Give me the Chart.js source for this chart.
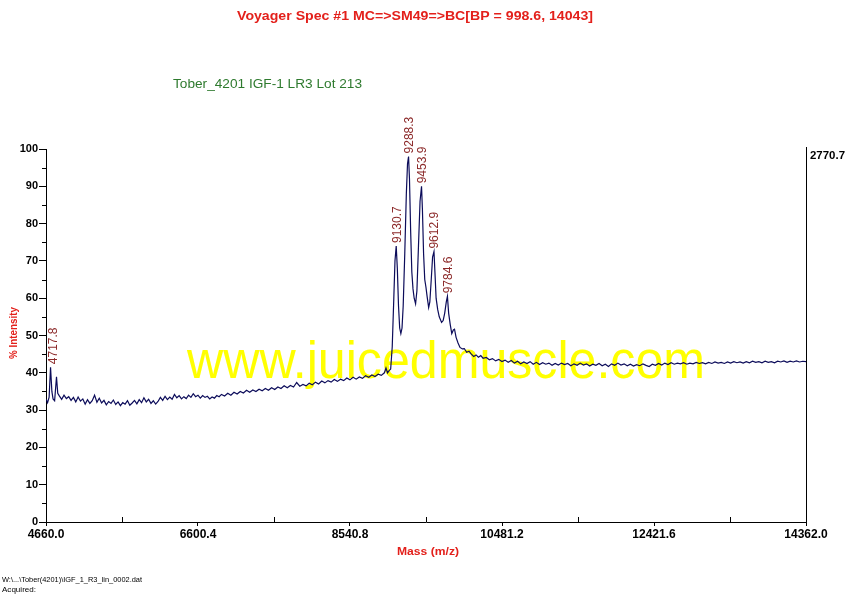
<!DOCTYPE html>
<html>
<head>
<meta charset="utf-8">
<script src="https://cdn.jsdelivr.net/npm/chart.js@4.4.1/dist/chart.umd.min.js"></script>
<style>
    html, body { margin: 0; padding: 0; background: #ffffff; }
    #myChart { display: block; }
</style>
</head>
<body>
<canvas id="myChart" width="845" height="596"></canvas>
<script>
// spectrum (mass in Da, intensity in %)
let massas = [
    4660, 4680, 4700, 4718, 4735, 4750, 4770, 4794, 4810, 4830, 4860, 4890, 4920, 4950, 4980,
    5010, 5040, 5070, 5100, 5130, 5160, 5190, 5220, 5250, 5280, 5310, 5340, 5370, 5400, 5430,
    5460, 5490, 5520, 5550, 5580, 5610, 5640, 5670, 5700, 5730, 5760, 5790, 5820, 5850, 5880,
    5910, 5940, 5970, 6000, 6030, 6060, 6090, 6120, 6150, 6180, 6210, 6240, 6270, 6300, 6330,
    6360, 6390, 6420, 6450, 6480, 6510, 6540, 6570, 6600, 6630, 6660, 6690, 6720, 6750, 6780,
    6810, 6840, 6870, 6900, 6940, 6980, 7020, 7060, 7100, 7140, 7180, 7220, 7260, 7300, 7340,
    7380, 7420, 7460, 7500, 7540, 7580, 7620, 7660, 7700, 7740, 7780, 7820, 7860, 7900, 7940,
    7980, 8020, 8060, 8100, 8140, 8180, 8220, 8260, 8300, 8340, 8380, 8420, 8460, 8500, 8540,
    8580, 8620, 8660, 8700, 8740, 8780, 8820, 8860, 8900, 8940, 8980, 9000, 9020, 9040, 9060,
    9080, 9100, 9115, 9130.7, 9145, 9160, 9175, 9190, 9205, 9220, 9240, 9260, 9275, 9288.3, 9300,
    9315, 9330, 9345, 9360, 9378, 9395, 9415, 9435, 9453.9, 9465, 9480, 9495, 9510, 9525, 9545,
    9560, 9578, 9595, 9612.9, 9625, 9640, 9660, 9680, 9710, 9730, 9750, 9770, 9784.6, 9800, 9820,
    9840, 9860, 9875, 9895, 9920, 9945, 9975, 10000, 10030, 10060, 10090, 10120, 10150, 10180, 10210,
    10240, 10280, 10320, 10360, 10400, 10440, 10480, 10520, 10560, 10600, 10640, 10680, 10720, 10760, 10800,
    10840, 10880, 10920, 10960, 11000, 11040, 11080, 11120, 11160, 11200, 11240, 11280, 11320, 11360, 11400,
    11440, 11480, 11520, 11560, 11600, 11640, 11680, 11720, 11760, 11800, 11840, 11880, 11920, 11960, 12000,
    12040, 12080, 12120, 12160, 12200, 12240, 12280, 12320, 12360, 12400, 12440, 12480, 12520, 12560, 12600,
    12640, 12680, 12720, 12760, 12800, 12840, 12880, 12920, 12960, 13000, 13040, 13080, 13120, 13160, 13200,
    13240, 13280, 13320, 13360, 13400, 13440, 13480, 13520, 13560, 13600, 13640, 13680, 13720, 13760, 13800,
    13840, 13880, 13920, 13960, 14000, 14040, 14080, 14120, 14160, 14200, 14240, 14280, 14320, 14362
];
let intensidades = [
    33.0, 32.0, 33.5, 41.5, 35.0, 33.0, 32.5, 38.9, 34.5, 33.8, 32.9, 34.0, 33.1, 33.6, 32.6,
    33.4, 32.2, 33.5, 32.4, 33.0, 31.6, 32.8, 31.8, 32.5, 34.0, 32.1, 33.2, 31.9, 32.6, 31.4,
    32.3, 31.8, 32.7, 31.5, 32.2, 31.2, 32.0, 31.6, 32.5, 31.3, 31.9, 32.6, 31.7, 32.8, 32.0,
    33.3, 32.2, 32.9, 31.8, 32.5, 31.6, 32.3, 33.4, 32.6, 33.7, 32.8, 33.5, 32.9, 34.2, 33.3,
    33.9, 33.0, 33.6, 33.1, 34.0, 33.4, 34.4, 33.6, 34.0, 33.2, 33.9, 33.4, 33.7, 33.0, 33.5,
    33.2, 33.9, 33.6, 34.2, 33.8, 34.5, 34.0, 34.8, 34.3, 35.0, 34.6, 35.3, 34.8, 35.4, 35.0,
    35.6, 35.2, 35.8, 35.3, 36.0, 35.5, 36.2, 35.8, 36.5, 36.0, 36.6, 36.2, 37.4, 36.4, 36.9,
    36.5, 37.2, 36.8, 37.5, 37.0, 37.8, 37.3, 37.9, 37.5, 38.2, 37.7, 38.3, 37.9, 38.6, 38.1,
    38.8, 38.3, 38.9, 38.5, 39.2, 38.8, 39.4, 39.0, 39.6, 39.3, 40.0, 41.3, 40.0, 40.6, 41.0,
    47.0, 60.0, 70.0, 74.0, 68.0, 58.0, 52.0, 50.5, 52.0, 58.0, 72.0, 88.0, 96.0, 98.0, 92.0,
    78.0, 67.0, 62.5, 60.0, 58.5, 62.0, 74.0, 86.0, 90.0, 84.0, 72.0, 65.0, 63.0, 60.5, 57.5,
    59.0, 65.0, 71.0, 72.5, 67.0, 60.0, 57.0, 55.0, 53.5, 54.0, 56.0, 59.0, 60.5, 56.0, 53.0,
    50.5, 51.5, 51.7, 49.5, 48.0, 46.8, 46.4, 46.5, 45.5, 45.8, 45.0, 44.4, 44.8, 44.2, 44.6,
    43.9, 44.1, 43.5, 43.8, 43.2, 43.6, 43.0, 43.4, 42.8, 43.3, 42.6, 43.1, 42.4, 42.9, 42.5,
    43.0, 42.3, 42.8, 42.2, 42.7, 42.3, 42.6, 42.0, 42.5, 42.1, 42.6, 42.2, 42.5, 41.9, 42.4,
    42.0, 42.6, 42.1, 42.4, 41.8, 42.3, 42.0, 42.5, 41.9, 42.3, 41.7, 42.4, 42.0, 42.6, 42.1,
    42.4, 41.9, 42.3, 41.8, 42.2, 41.9, 42.4, 42.0, 41.7, 42.3, 42.0, 42.5, 42.1, 42.6, 42.2,
    42.7, 42.3, 42.6, 42.4, 42.7, 42.3, 42.6, 42.4, 42.8, 42.5, 42.7, 42.4, 42.8, 42.5, 42.9,
    42.6, 42.8, 42.5, 42.9, 42.6, 43.0, 42.7, 42.9, 42.6, 43.0, 42.7, 43.1, 42.8, 43.0, 42.7,
    43.1, 42.8, 43.0, 42.7, 43.1, 42.9, 43.2, 42.8, 43.1, 42.9, 43.2, 42.9, 43.1, 43.0
];

// labelled peaks
let picosMassa = [4717.8, 9130.7, 9288.3, 9453.9, 9612.9, 9784.6];
let picosValor = [41.5, 74.0, 98.0, 90.0, 72.5, 60.5];

// axis ticks
let xTicks = [4660.0, 6600.4, 8540.8, 10481.2, 12421.6, 14362.0];
let yTicks = [0, 10, 20, 30, 40, 50, 60, 70, 80, 90, 100];

let titulo = 'Voyager Spec #1 MC=>SM49=>BC[BP = 998.6, 14043]';
let subtitulo = 'Tober_4201 IGF-1 LR3 Lot 213';
let arquivo = 'W:\\...\\Tober(4201)\\IGF_1_R3_lin_0002.dat';
let maxIntensidade = '2770.7';
let marcaDagua = 'www.juicedmuscle.com';

// texto esticado na horizontal para caber na largura vista na imagem
function TextoAjustado(ctx, texto, x, y, largura, align) {
    let w = ctx.measureText(texto).width;
    ctx.save();
    ctx.translate(x, y);
    ctx.scale(largura / w, 1);
    ctx.textAlign = align;
    ctx.fillText(texto, 0, 0);
    ctx.restore();
}

let marcaPlugin = {
    id: 'marca',
    beforeDatasetsDraw: function (chart) {
        let ctx = chart.ctx;
        ctx.save();
        ctx.fillStyle = '#ffff00';
        ctx.font = '51px "Liberation Sans", Arial, sans-serif';
        ctx.textBaseline = 'alphabetic';
        TextoAjustado(ctx, marcaDagua, 187, 378, 518, 'left');
        ctx.restore();
    }
};

let textosPlugin = {
    id: 'textos',
    afterDraw: function (chart) {
        let ctx = chart.ctx;
        let area = chart.chartArea;
        let x = chart.scales.x;
        let y = chart.scales.y;
        ctx.save();

        // borda direita
        ctx.strokeStyle = '#000000';
        ctx.lineWidth = 1;
        ctx.beginPath();
        ctx.moveTo(Math.round(area.right) + 0.5, area.top - 2);
        ctx.lineTo(Math.round(area.right) + 0.5, area.bottom);
        ctx.stroke();

        // ticks menores
        ctx.beginPath();
        for (let v = 5; v < 100; v += 10) {
            let py = Math.round(y.getPixelForValue(v)) + 0.5;
            ctx.moveTo(area.left - 4, py);
            ctx.lineTo(area.left, py);
        }
        for (let i = 0; i < xTicks.length - 1; i++) {
            let px = Math.round(x.getPixelForValue((xTicks[i] + xTicks[i + 1]) / 2)) + 0.5;
            ctx.moveTo(px, area.bottom);
            ctx.lineTo(px, area.bottom - 5);
        }
        ctx.stroke();

        ctx.textBaseline = 'alphabetic';
        ctx.fillStyle = '#e3201b';
        ctx.font = 'bold 12px "Liberation Sans", Arial, sans-serif';
        TextoAjustado(ctx, titulo, 415, 20, 356, 'center');

        ctx.fillStyle = '#2e7a2e';
        ctx.font = '12.5px "Liberation Sans", Arial, sans-serif';
        TextoAjustado(ctx, subtitulo, 173, 88, 189, 'left');

        ctx.fillStyle = '#e3201b';
        ctx.font = 'bold 11px "Liberation Sans", Arial, sans-serif';
        TextoAjustado(ctx, 'Mass (m/z)', 428, 555, 62, 'center');
        ctx.save();
        ctx.translate(17, 333);
        ctx.rotate(-Math.PI / 2);
        TextoAjustado(ctx, '% Intensity', 0, 0, 52, 'center');
        ctx.restore();

        ctx.fillStyle = '#000000';
        ctx.font = 'bold 10px "Liberation Sans", Arial, sans-serif';
        TextoAjustado(ctx, maxIntensidade, 810, 159, 35, 'left');

        ctx.font = '8px "Liberation Sans", Arial, sans-serif';
        TextoAjustado(ctx, arquivo, 2, 582, 140, 'left');
        TextoAjustado(ctx, 'Acquired:', 2, 592, 34, 'left');

        // rotulos dos picos
        ctx.fillStyle = '#8c2a2a';
        ctx.font = '12px "Liberation Sans", Arial, sans-serif';
        ctx.textBaseline = 'middle';
        for (let p = 0; p < picosMassa.length; p++) {
            let px = x.getPixelForValue(picosMassa[p]) + (p == 0 ? 3 : 1);
            let py = y.getPixelForValue(picosValor[p]) - 3;
            ctx.save();
            ctx.translate(px, py);
            ctx.rotate(-Math.PI / 2);
            ctx.textAlign = 'left';
            ctx.fillText(picosMassa[p].toFixed(1), 0, 0);
            ctx.restore();
        }
        ctx.restore();
    }
};

let pontos = [];
for (let n = 0; n < massas.length; n++) {
    pontos.push({ x: massas[n], y: intensidades[n] });
}

let dados = {
    datasets: [{
        label: 'Spectrum',
        data: pontos,
        borderColor: '#0c0c5a',
        borderWidth: 1.2,
        pointRadius: 0,
        tension: 0,
        fill: false
    }]
};

let options = {
    responsive: false,
    animation: false,
    layout: { padding: { left: 0, right: 39, top: 149, bottom: 0 } },
    plugins: {
        legend: { display: false },
        tooltip: { enabled: false },
        title: { display: false }
    },
    scales: {
        x: {
            type: 'linear',
            min: 4660,
            max: 14362,
            afterBuildTicks: function (scale) {
                scale.ticks = xTicks.map(function (v) { return { value: v }; });
            },
            afterFit: function (scale) { scale.height = 74; },
            ticks: {
                autoSkip: false,
                maxRotation: 0,
                padding: 1,
                color: '#000000',
                font: { family: '"Liberation Sans", Arial, sans-serif', size: 12, weight: 'bold' },
                callback: function (v) { return Number(v).toFixed(1); }
            },
            grid: { drawOnChartArea: false, tickLength: 4, color: '#000000' },
            border: { color: '#000000', width: 1 }
        },
        y: {
            min: 0,
            max: 100,
            afterBuildTicks: function (scale) {
                scale.ticks = yTicks.map(function (v) { return { value: v }; });
            },
            afterFit: function (scale) { scale.width = 46; },
            ticks: {
                padding: 1,
                color: '#000000',
                font: { family: '"Liberation Sans", Arial, sans-serif', size: 11, weight: 'bold' }
            },
            grid: { drawOnChartArea: false, tickLength: 7, color: '#000000' },
            border: { color: '#000000', width: 1 }
        }
    }
};

let config = {
    type: 'line',
    data: dados,
    options: options,
    plugins: [marcaPlugin, textosPlugin]
};
let myChart = new Chart(document.getElementById('myChart'), config);
</script>
</body>
</html>
